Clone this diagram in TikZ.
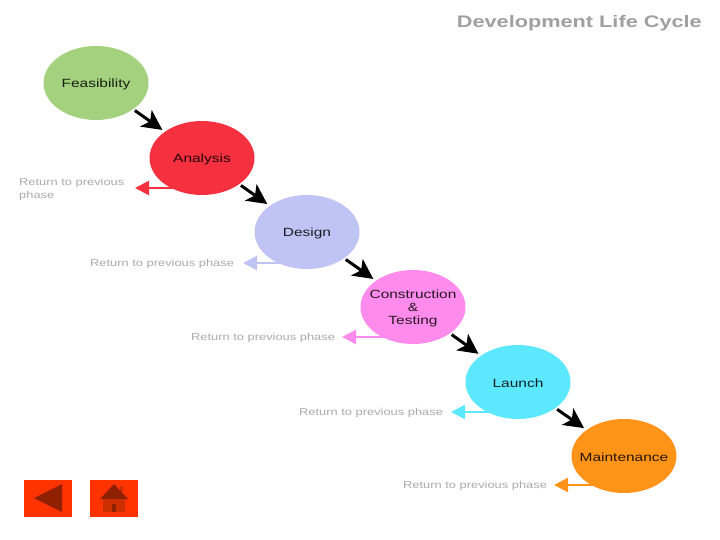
\documentclass[tikz,border=0pt]{standalone}
\usepackage{fontspec}
\usetikzlibrary{arrows.meta,shapes.geometric}
\setmainfont{Liberation Sans}
\newfontfamily\widefont[FakeStretch=1.3]{Liberation Sans}
\newcommand{\lowered}[1]{\raisebox{-1pt}[\height][\depth]{#1}}
\definecolor{cfeas}{HTML}{A3D17E}
\definecolor{cana}{HTML}{F5303F}
\definecolor{cdes}{HTML}{C0C4F5}
\definecolor{ccon}{HTML}{FF8CEC}
\definecolor{clau}{HTML}{5CE8FF}
\definecolor{cmai}{HTML}{FF9418}
\definecolor{cgrey}{HTML}{ABABAB}
\definecolor{ctitle}{HTML}{A0A0A0}
\definecolor{cbtn}{HTML}{FF3300}
\definecolor{cdark}{HTML}{8F2000}
\definecolor{cbody}{HTML}{CC3000}
\tikzset{
  phase/.style={ellipse,fill=#1,draw=none,minimum width=105pt,minimum height=74pt,inner xsep=-15pt,inner ysep=0pt,align=center,
    font=\widefont\fontsize{11.9}{13}\selectfont,text=black!85!#1},
  flow/.style={draw=black,line width=3pt,-{Stealth[length=20pt,width=20pt,inset=5pt]},shorten >=3pt,shorten <=2pt},
  back/.style={draw=#1,line width=2.2pt,-{Triangle[length=14pt,width=14pt]}},
  retlabel/.style={text=cgrey,font=\widefont\fontsize{9.9}{13}\selectfont,inner sep=0pt,align=left}
}
\begin{document}
\begin{tikzpicture}[x=1pt,y=-1pt]
\useasboundingbox (0,0) rectangle (720,540);
\fill[white] (0,0) rectangle (720,540);
\node[text=ctitle,font=\widefont\fontsize{16.7}{18}\selectfont\bfseries,inner sep=0pt,anchor=east] (title) at (702,23.5) {Development Life Cycle};
\node[phase=cfeas] (feas) at (96,83) {\lowered{Feasibility}};
\node[phase=cana] (ana) at (202,158) {\lowered{Analysis}};
\node[phase=cdes] (des) at (307,232) {\lowered{Design}};
\node[phase=ccon] (con) at (413,307) {\lowered{Construction}\\\lowered{\&}\\\lowered{Testing}};
\node[phase=clau] (lau) at (518,382) {\lowered{Launch}};
\node[phase=cmai] (mai) at (624,456) {\lowered{Maintenance}};
\draw[flow] (feas) -- (ana);
\draw[flow] (ana) -- (des);
\draw[flow] (des) -- (con);
\draw[flow] (con) -- (lau);
\draw[flow] (lau) -- (mai);
\node[retlabel,anchor=west] (r1) at (19,189) {Return to previous\\phase};
\node[retlabel,anchor=west] (r2) at (90,263.5) {Return to previous phase};
\node[retlabel,anchor=west] (r3) at (191,338) {Return to previous phase};
\node[retlabel,anchor=west] (r4) at (299,413) {Return to previous phase};
\node[retlabel,anchor=west] (r5) at (403,486) {Return to previous phase};
\coordinate (t1) at (135,188);
\coordinate (t2) at (243,263);
\coordinate (t3) at (342,337);
\coordinate (t4) at (451,412);
\coordinate (t5) at (554,485);
\draw[back=cana] (ana.center |- t1) ++(-24,0) -- (t1);
\draw[back=cdes] (des.center |- t2) ++(-24,0) -- (t2);
\draw[back=ccon] (con.center |- t3) ++(-24,0) -- (t3);
\draw[back=clau] (lau.center |- t4) ++(-24,0) -- (t4);
\draw[back=cmai] (mai.center |- t5) ++(-24,0) -- (t5);
% navigation buttons
\fill[cbtn] (24,480) rectangle (72,517);
\fill[cdark] (34,498) -- (62,484) -- (62,512) -- cycle;
\fill[cbtn] (90,480) rectangle (138,517);
\fill[cbody] (103,499) rectangle (125,512);
\fill[cbody] (120,486) rectangle (123,492);
\fill[cdark] (114,484) -- (128,499) -- (100,499) -- cycle;
\fill[cdark] (112,504) rectangle (116,512);
\end{tikzpicture}
\end{document}
